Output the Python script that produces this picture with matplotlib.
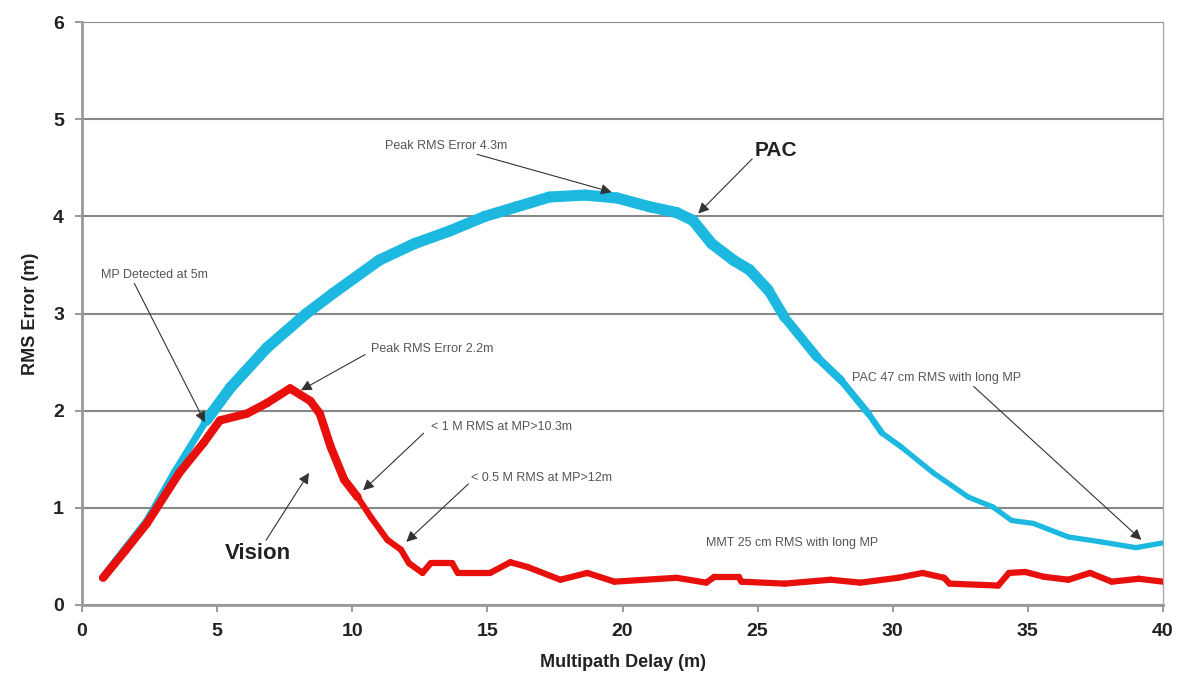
import numpy as np
import matplotlib
matplotlib.use("Agg")
import matplotlib.pyplot as plt
from matplotlib.collections import LineCollection

# --- Data ---
pac_x = [0.75, 1.5, 2.4, 3.4, 4.6, 5.5, 6.85, 8.3, 9.3, 11.0, 12.3, 13.6, 14.9,
         16.1, 17.3, 18.6, 19.8, 21.0, 22.0, 22.6, 23.3, 24.1, 24.7, 25.4, 26.0,
         27.2, 28.1, 29.1, 29.6, 30.3, 31.5, 32.8, 33.7, 34.4, 35.2, 36.5, 37.7,
         39.0, 40.0]
pac_y = [0.28, 0.55, 0.87, 1.36, 1.90, 2.24, 2.65, 3.00, 3.21, 3.55, 3.72, 3.85, 4.00,
         4.10, 4.20, 4.22, 4.19, 4.10, 4.04, 3.96, 3.72, 3.55, 3.45, 3.24, 2.96,
         2.55, 2.31, 1.97, 1.77, 1.63, 1.36, 1.11, 1.01, 0.87, 0.84, 0.70, 0.65,
         0.59, 0.64]

vis_x = [0.78, 1.6, 2.4, 3.6, 4.5, 5.1, 6.1, 6.85, 7.7, 8.45, 8.8, 9.2, 9.7, 10.2,
         10.7, 11.3, 11.8, 12.1, 12.6, 12.9, 13.7, 13.9, 15.1, 15.85, 16.5, 17.7,
         18.7, 19.7, 22.0, 23.1, 23.4, 24.3, 24.4, 26.0, 27.7, 28.8, 30.2, 31.1,
         31.9, 32.1, 33.9, 34.3, 34.9, 35.6, 36.5, 37.3, 38.1, 39.1, 40.0]
vis_y = [0.28, 0.56, 0.84, 1.36, 1.67, 1.90, 1.97, 2.08, 2.23, 2.10, 1.97, 1.63, 1.29, 1.11,
         0.90, 0.67, 0.57, 0.43, 0.33, 0.43, 0.43, 0.33, 0.33, 0.44, 0.39, 0.26,
         0.33, 0.24, 0.28, 0.23, 0.29, 0.29, 0.24, 0.22, 0.26, 0.23, 0.28, 0.33,
         0.28, 0.22, 0.20, 0.33, 0.34, 0.29, 0.26, 0.33, 0.24, 0.27, 0.24]

x_ticks = [0, 5, 10, 15, 20, 25, 30, 35, 40]
y_ticks = [0, 1, 2, 3, 4, 5, 6]

plt.rcParams['font.family'] = ['Liberation Sans', 'DejaVu Sans']

fig = plt.figure(figsize=(11.8, 6.93), dpi=100)
ax = fig.add_axes([0.0695, 0.127, 0.9161, 0.841])

ax.set_xlim(0, 40)
ax.set_ylim(0, 6)
ax.set_xticks(x_ticks)
ax.set_yticks(y_ticks)
ax.set_xticklabels([str(v) for v in x_ticks], fontsize=14, fontweight='bold', color='#222222')
ax.set_yticklabels([str(v) for v in y_ticks], fontsize=14, fontweight='bold', color='#222222')
ax.tick_params(axis='both', direction='out', length=5, width=1.2, color='#888888', pad=8)

ax.grid(axis='y', color='#888888', linewidth=1.5, zorder=0)
ax.set_axisbelow(True)
for s in ['left', 'bottom']:
    ax.spines[s].set_color('#999999')
    ax.spines[s].set_linewidth(2)
ax.spines['right'].set_color('#aaaaaa')
ax.spines['right'].set_linewidth(1)
ax.spines['top'].set_visible(False)

ax.set_xlabel('Multipath Delay (m)', fontsize=13, fontweight='bold', color='#222222', labelpad=10)
ax.set_ylabel('RMS Error (m)', fontsize=13, fontweight='bold', color='#222222', labelpad=10)

def thick_line(xs, ys, color, width_fn, z):
    xs = np.asarray(xs, float); ys = np.asarray(ys, float)
    pts = np.column_stack([xs, ys]).reshape(-1, 1, 2)
    segs = np.concatenate([pts[:-1], pts[1:]], axis=1)
    mids = 0.5 * (xs[:-1] + xs[1:])
    lc = LineCollection(segs, colors=color, linewidths=[width_fn(m) for m in mids],
                        capstyle='round', joinstyle='round', zorder=z)
    ax.add_collection(lc)

def pac_w(m):
    if m < 5:
        return 5.0
    if m < 25:
        return 8.0
    if m < 30:
        return 8.0 - (m - 25) * 0.8
    return 3.8

def vis_w(m):
    if m < 10:
        return 6.0
    return 4.5

thick_line(pac_x, pac_y, '#1cb8e0', pac_w, 3)
thick_line(vis_x, vis_y, '#e8100c', vis_w, 4)

small = dict(fontsize=9, color='#555555')
arrow = dict(arrowstyle='-|>', color='#333333', lw=0.8, mutation_scale=16,
             shrinkA=0, shrinkB=0)

ax.annotate('Peak RMS Error 4.3m', xy=(19.6, 4.25), xytext=(11.2, 4.73),
            textcoords='data', va='center', ha='left', arrowprops=arrow, zorder=6, **small)
ax.annotate('PAC', xy=(22.8, 4.03), xytext=(24.9, 4.68), va='center', ha='left',
            fontsize=15, fontweight='bold', color='#222222',
            arrowprops=dict(arrow, relpos=(0, 0.2)), zorder=6)
ax.annotate('MP Detected at 5m', xy=(4.55, 1.88), xytext=(0.7, 3.4), va='center', ha='left',
            arrowprops=dict(arrow, relpos=(0.3, 0)), zorder=6, **small)
ax.annotate('Peak RMS Error 2.2m', xy=(8.1, 2.21), xytext=(10.7, 2.64), va='center', ha='left',
            arrowprops=dict(arrow, relpos=(-0.05, 0)), zorder=6, **small)
ax.annotate('< 1 M RMS at MP>10.3m', xy=(10.4, 1.18), xytext=(12.9, 1.83), va='center', ha='left',
            arrowprops=dict(arrow, relpos=(-0.05, 0)), zorder=6, **small)
ax.annotate('< 0.5 M RMS at MP>12m', xy=(12.0, 0.65), xytext=(14.4, 1.31), va='center', ha='left',
            arrowprops=dict(arrow, relpos=(0, 0.2)), zorder=6, **small)
ax.annotate('Vision', xy=(8.4, 1.36), xytext=(6.5, 0.53), va='center', ha='center',
            fontsize=16, fontweight='bold', color='#222222',
            arrowprops=dict(arrow, relpos=(0.6, 1.0)), zorder=6)
ax.annotate('PAC 47 cm RMS with long MP', xy=(39.2, 0.67), xytext=(28.5, 2.34), va='center', ha='left',
            arrowprops=dict(arrow, relpos=(0.7, 0)), zorder=6, **small)
ax.text(23.1, 0.64, 'MMT 25 cm RMS with long MP', va='center', ha='left', zorder=6, **small)

fig.savefig('out.png', dpi=100)
